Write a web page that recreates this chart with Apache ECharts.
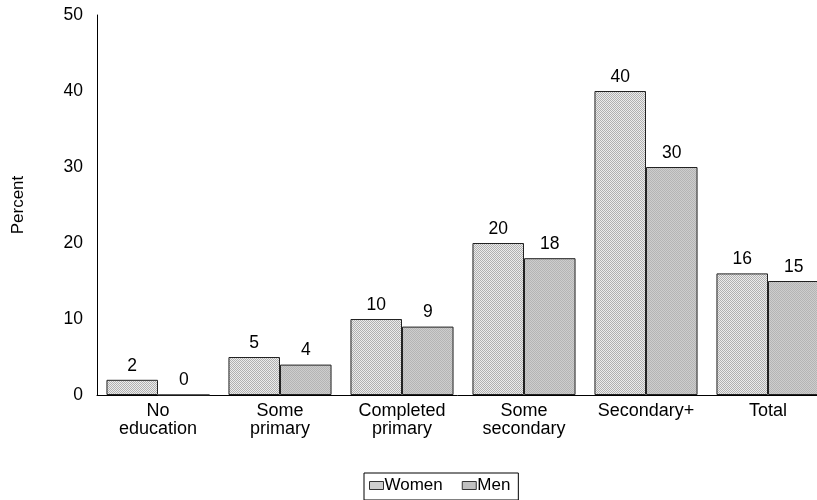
<!DOCTYPE html>
<html>
<head>
<meta charset="utf-8">
<title>Percent by education</title>
<script src="https://cdn.jsdelivr.net/npm/echarts@6/dist/echarts.min.js"></script>
<style>
  html, body { margin: 0; padding: 0; background: #fff; }
  #main { width: 817px; height: 500px; }
</style>
</head>
<body>
<div id="main"></div>
<script>
var categories = ['No\neducation', 'Some\nprimary', 'Completed\nprimary', 'Some\nsecondary', 'Secondary+', 'Total'];
var women = [2, 5, 10, 20, 40, 16];
var men = [0, 4, 9, 18, 30, 15];
var yTicks = [0, 10, 20, 30, 40, 50];

// small checker patterns to mimic the dotted fills
function checker(a, b) {
  var c = document.createElement('canvas');
  c.width = 2; c.height = 2;
  var ctx = c.getContext('2d');
  ctx.fillStyle = b; ctx.fillRect(0, 0, 2, 2);
  ctx.fillStyle = a; ctx.fillRect(0, 0, 1, 1); ctx.fillRect(1, 1, 1, 1);
  return { image: c, repeat: 'repeat' };
}
var womenFill = checker('#b0b0b0', '#ececec');
var menFill = checker('#b4b4b4', '#cdcdcd');

var font = '"Liberation Sans", Arial, sans-serif';
var myChart = echarts.init(document.getElementById('main'));
var option = {
  animation: false,
  textStyle: { fontFamily: font },
  // plot runs past the right edge, as in the original
  grid: { left: 97, width: 732, top: 15, bottom: 105, containLabel: false, outerBoundsMode: 'none' },
  legend: {
    data: ['Women', 'Men'],
    left: 364, top: 473,
    icon: 'rect',
    borderColor: '#000', borderWidth: 1,
    padding: [4, 8, 6, 5],
    itemWidth: 14, itemHeight: 8, itemGap: 19,
    itemStyle: { borderColor: '#333', borderWidth: 1 },
    textStyle: { fontSize: 17, color: '#000', fontFamily: font, padding: [0, 0, 0, -4] }
  },
  xAxis: {
    type: 'category',
    data: categories,
    axisLine: { lineStyle: { color: '#000', width: 1 } },
    axisTick: { show: false },
    axisLabel: { color: '#000', fontSize: 18, fontFamily: font, margin: 7, lineHeight: 18, interval: 0 }
  },
  yAxis: {
    type: 'value',
    min: yTicks[0], max: yTicks[yTicks.length - 1], interval: 10,
    name: 'Percent',
    nameLocation: 'middle',
    nameGap: 70,
    nameTextStyle: { color: '#000', fontSize: 17, fontFamily: font },
    axisLine: { show: true, lineStyle: { color: '#000', width: 1 } },
    axisTick: { show: false },
    splitLine: { show: false },
    axisLabel: { color: '#000', fontSize: 17.5, fontFamily: font, margin: 14 }
  },
  series: [
    {
      name: 'Women', type: 'bar', data: women,
      barGap: '0%', barCategoryGap: '15.5%',
      itemStyle: { color: womenFill, borderColor: '#222', borderWidth: 1 },
      label: { show: true, position: 'top', distance: 5, color: '#000', fontSize: 17.5, fontFamily: font }
    },
    {
      name: 'Men', type: 'bar', data: men,
      itemStyle: { color: menFill, borderColor: '#222', borderWidth: 1 },
      label: { show: true, position: 'top', distance: 5, color: '#000', fontSize: 17.5, fontFamily: font }
    }
  ]
};
myChart.setOption(option);
</script>
</body>
</html>
